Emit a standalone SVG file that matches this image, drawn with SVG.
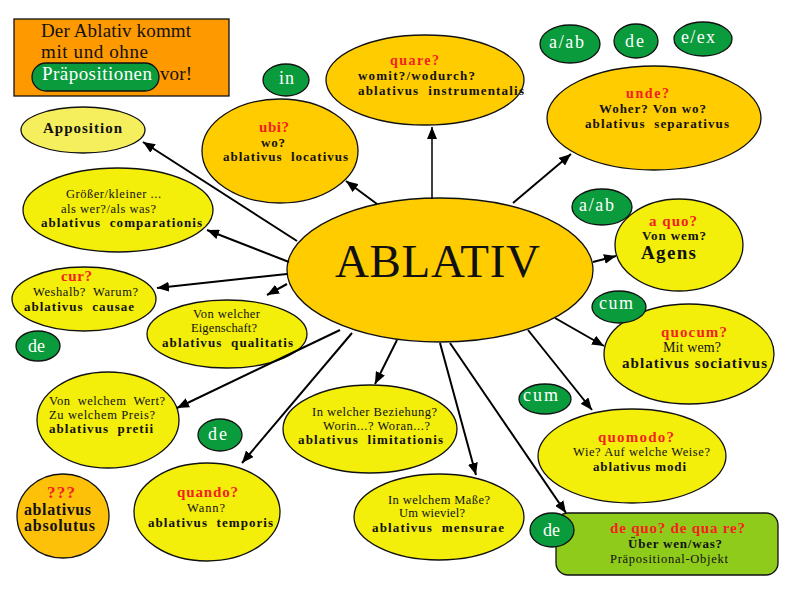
<svg xmlns="http://www.w3.org/2000/svg" width="806" height="595" viewBox="0 0 806 595">
<defs>
<style>
text{font-family:"Liberation Serif","Times New Roman",serif;fill:#111;white-space:pre}
.n{stroke:#111;stroke-width:1.3}
.gold{fill:#FFCC00}
.yel{fill:#F3EE0A}
.lyel{fill:#F5EF5E}
.abs{fill:#FDC10A}
.grn{fill:#0A9B3C;stroke:#111;stroke-width:1.3}
.gt{fill:#fff;font-size:18px}
.r{fill:#F41F1F;font-weight:bold;font-size:14px}
.b{font-weight:bold;font-size:13px}
.t{font-size:12.5px}
.c line{stroke:#000;stroke-width:2;marker-end:url(#ah)}
</style>
<marker id="ah" markerUnits="userSpaceOnUse" markerWidth="13" markerHeight="10" refX="12" refY="5" orient="auto">
<path d="M0,0 L12,5 L0,10 z" fill="#000"/>
</marker>
</defs>
<rect width="806" height="595" fill="#fff"/>

<g id="intro">
<rect x="14" y="19" width="215" height="77" fill="#FF9900" stroke="#111" stroke-width="1.3"/>
<text x="41" y="37" font-size="19" textLength="150">Der Ablativ kommt</text>
<text x="41" y="58" font-size="19" textLength="107">mit und ohne</text>
<rect x="32" y="63" width="127" height="28" rx="14" class="grn"/>
<text x="42" y="80" font-size="19" style="fill:#fff" textLength="110">Präpositionen</text>
<text x="160" y="80" font-size="19" textLength="32">vor!</text>
</g>

<g id="apposition">
<ellipse cx="83" cy="130" rx="62" ry="23" class="n lyel"/>
<text x="43" y="133" class="b" style="font-size:15px" textLength="79">Apposition</text>
</g>

<g id="ubi">
<ellipse cx="280" cy="151" rx="78" ry="52" class="n gold"/>
<text x="259" y="132" class="r" style="font-size:15px" textLength="30">ubi?</text>
<text x="261" y="147" class="b" textLength="24">wo?</text>
<text x="223" y="161" class="b" textLength="125">ablativus  locativus</text>
</g>

<g id="quare">
<ellipse cx="425" cy="80" rx="99" ry="45" class="n gold"/>
<text x="390" y="65" class="r" textLength="49">quare?</text>
<text x="358" y="80" class="b" textLength="117">womit?/wodurch?</text>
<text x="358" y="95" class="b" textLength="166">ablativus  instrumentalis</text>
</g>

<g id="unde">
<ellipse cx="654" cy="118" rx="107" ry="52" class="n gold"/>
<text x="626" y="98" class="r" textLength="43">unde?</text>
<text x="599" y="113" class="b" textLength="107">Woher? Von wo?</text>
<text x="585" y="128" class="b" textLength="144">ablativus  separativus</text>
</g>

<g id="comparationis">
<ellipse cx="118" cy="210" rx="95" ry="42" class="n yel"/>
<text x="66" y="198" class="t" textLength="95">Größer/kleiner ...</text>
<text x="61" y="213" class="t" textLength="95">als wer?/als was?</text>
<text x="41" y="227" class="b" textLength="161">ablativus  comparationis</text>
</g>

<g id="causae">
<ellipse cx="84" cy="299" rx="72" ry="32" class="n yel"/>
<text x="61" y="281" class="r" style="font-size:15px" textLength="31">cur?</text>
<text x="33" y="296" class="t" textLength="105">Weshalb?  Warum?</text>
<text x="24" y="311" class="b" textLength="110">ablativus  causae</text>
</g>

<g id="qualitatis">
<ellipse cx="227" cy="334" rx="80" ry="34" class="n yel"/>
<text x="193" y="318" class="t" textLength="67">Von welcher</text>
<text x="191" y="332" class="t" textLength="66">Eigenschaft?</text>
<text x="162" y="347" class="b" textLength="131">ablativus  qualitatis</text>
</g>

<g id="ablativ">
<ellipse cx="440" cy="270" rx="153" ry="72" class="n gold"/>
<text x="335" y="277" font-size="47" textLength="205">ABLATIV</text>
</g>

<g id="agens">
<ellipse cx="679" cy="245" rx="64" ry="46" class="n yel"/>
<text x="649" y="226" class="r" style="font-size:15px" textLength="48">a quo?</text>
<text x="642" y="240" class="b" textLength="64">Von wem?</text>
<text x="641" y="259" class="b" style="font-size:19px" textLength="55">Agens</text>
</g>

<g id="sociativus">
<ellipse cx="689" cy="354" rx="85" ry="50" class="n yel"/>
<text x="661" y="337" class="r" style="font-size:15px" textLength="66">quocum?</text>
<text x="663" y="352" class="t" style="font-size:14px" textLength="58">Mit wem?</text>
<text x="622" y="368" class="b" style="font-size:15px" textLength="145">ablativus sociativus</text>
</g>

<g id="pretii">
<ellipse cx="108" cy="420" rx="71" ry="48" class="n yel"/>
<text x="49" y="405" class="t" textLength="116">Von  welchem  Wert?</text>
<text x="49" y="419" class="t" textLength="106">Zu welchem Preis?</text>
<text x="49" y="433" class="b" textLength="104">ablativus  pretii</text>
</g>

<g id="absolutus">
<ellipse cx="63" cy="516" rx="46" ry="42" class="n abs"/>
<text x="47" y="498" class="r" style="font-size:17px" textLength="28">???</text>
<text x="24" y="515" class="b" style="font-size:16px" textLength="67">ablativus</text>
<text x="24" y="531" class="b" style="font-size:16px" textLength="71">absolutus</text>
</g>

<g id="temporis">
<ellipse cx="207" cy="512" rx="73" ry="49" class="n yel"/>
<text x="177" y="497" class="r" style="font-size:15px" textLength="61">quando?</text>
<text x="187" y="512" class="t" textLength="38">Wann?</text>
<text x="148" y="527" class="b" textLength="125">ablativus  temporis</text>
</g>

<g id="limitationis">
<ellipse cx="370" cy="429" rx="87" ry="44" class="n yel"/>
<text x="312" y="416" class="t" textLength="125">In welcher Beziehung?</text>
<text x="323" y="430" class="t" textLength="107">Worin...? Woran...?</text>
<text x="298" y="444" class="b" textLength="145">ablativus  limitationis</text>
</g>

<g id="mensurae">
<ellipse cx="439" cy="517" rx="85" ry="43" class="n yel"/>
<text x="388" y="504" class="t" textLength="102">In welchem Maße?</text>
<text x="399" y="517" class="t" textLength="66">Um wieviel?</text>
<text x="372" y="532" class="b" textLength="132">ablativus  mensurae</text>
</g>

<g id="modi">
<ellipse cx="632" cy="456" rx="94" ry="47" class="n yel"/>
<text x="598" y="442" class="r" style="font-size:15px" textLength="76">quomodo?</text>
<text x="573" y="456" class="t" textLength="137">Wie? Auf welche Weise?</text>
<text x="593" y="471" class="b" textLength="93">ablativus modi</text>
</g>

<g id="praepositionalobjekt">
<rect x="556" y="513" width="222" height="62" rx="12" fill="#8FCB1A" stroke="#111" stroke-width="1.3"/>
<text x="610" y="533" class="r" style="font-size:15px" textLength="135">de quo? de qua re?</text>
<text x="628" y="548" class="b" textLength="94">Über wen/was?</text>
<text x="610" y="563" class="t" textLength="118">Präpositional-Objekt</text>
</g>

<g id="badge-in"><ellipse cx="286" cy="80" rx="23" ry="16" class="grn"/><text x="279" y="84" class="gt" textLength="15">in</text></g>
<g id="badge-aab-top"><ellipse cx="570" cy="44" rx="30" ry="19" class="grn"/><text x="549" y="48" class="gt" textLength="35">a/ab</text></g>
<g id="badge-de-top"><ellipse cx="636" cy="41" rx="22" ry="17" class="grn"/><text x="625" y="47" class="gt" textLength="19">de</text></g>
<g id="badge-eex"><ellipse cx="703" cy="39" rx="29" ry="17" class="grn"/><text x="681" y="43" class="gt" textLength="34">e/ex</text></g>
<g id="badge-de-left"><ellipse cx="38" cy="346" rx="22" ry="15" class="grn"/><text x="28" y="352" class="gt" textLength="17">de</text></g>
<g id="badge-aab-agens"><ellipse cx="602" cy="207" rx="30" ry="18" class="grn"/><text x="579" y="211" class="gt" textLength="35">a/ab</text></g>
<g id="badge-cum-soc"><ellipse cx="619" cy="307" rx="27" ry="16" class="grn"/><text x="599" y="309" class="gt" textLength="34">cum</text></g>
<g id="badge-de-mid"><ellipse cx="220" cy="435" rx="22" ry="16" class="grn"/><text x="208" y="440" class="gt" textLength="19">de</text></g>
<g id="badge-cum-modi"><ellipse cx="545" cy="399" rx="26" ry="15" class="grn"/><text x="523" y="401" class="gt" textLength="35">cum</text></g>
<g id="badge-de-box"><ellipse cx="552" cy="530" rx="22" ry="17" class="grn"/><text x="543" y="536" class="gt" textLength="17">de</text></g>

<g id="connectors" class="c">
<line x1="432" y1="199" x2="432" y2="127" style="stroke-width:1.5"/>
<line x1="513" y1="203" x2="571" y2="154"/>
<line x1="377" y1="204" x2="346" y2="181"/>
<line x1="297" y1="241" x2="143" y2="142"/>
<line x1="289" y1="262" x2="207" y2="230"/>
<line x1="287" y1="274" x2="157" y2="288"/>
<line x1="287" y1="284" x2="267" y2="295"/>
<line x1="340" y1="330" x2="177" y2="408"/>
<line x1="352" y1="333" x2="242" y2="463"/>
<line x1="397" y1="340" x2="375" y2="384"/>
<line x1="440" y1="343" x2="476" y2="475"/>
<line x1="450" y1="343" x2="566" y2="513"/>
<line x1="528" y1="330" x2="592" y2="410"/>
<line x1="555" y1="318" x2="604" y2="346"/>
<line x1="593" y1="262" x2="616" y2="256"/>
</g>
</svg>
